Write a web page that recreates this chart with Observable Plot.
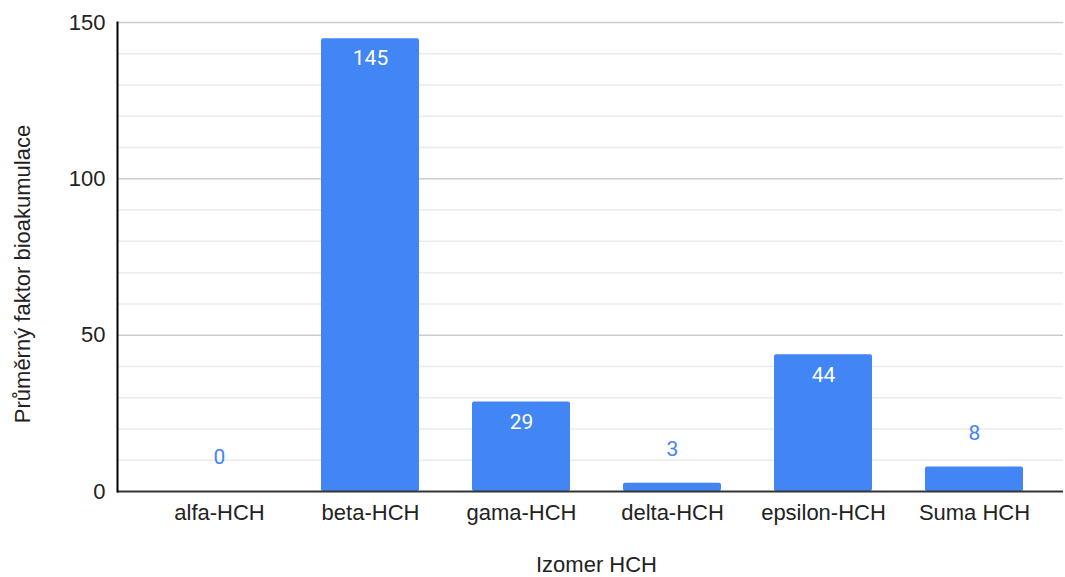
<!DOCTYPE html>
<html>
<head>
<meta charset="utf-8">
<script src="https://cdn.jsdelivr.net/npm/d3@7"></script>
<script src="https://cdn.jsdelivr.net/npm/@observablehq/plot@0.6"></script>
<style>
  html, body { margin: 0; padding: 0; background: #fff; }
  #chart svg { display: block; }
</style>
</head>
<body>
<div id="chart"></div>
<script>
const categories = ["alfa-HCH", "beta-HCH", "gama-HCH", "delta-HCH", "epsilon-HCH", "Suma HCH"];
const values = [0, 144.8, 28.6, 2.6, 43.7, 7.8];
const majorTicks = [0, 50, 100, 150];
const minorTicks = [10, 20, 30, 40, 60, 70, 80, 90, 110, 120, 130, 140];
const xTitle = "Izomer HCH";
const yTitle = "Průměrný faktor bioakumulace";

const data = categories.map((c, i) => ({cat: c, val: values[i]}));
const fmt = d3.format(".0f");
const inside = data.filter(d => d.val >= 20);
const outside = data.filter(d => d.val < 20);

const font = "'Liberation Sans', Arial, sans-serif";
const blue = "#4285F4";
const fs = 22;

const chart = Plot.plot({
  width: 1065,
  height: 577,
  marginLeft: 117,
  marginRight: 2,
  marginTop: 22,
  marginBottom: 86,
  style: {fontFamily: font, fontSize: fs + "px", color: "#222", background: "#fff"},
  x: {domain: categories, range: [117, 1076], paddingInner: 0.353, paddingOuter: 0.34, label: null},
  y: {domain: [0, 150], label: null},
  marks: [
    Plot.ruleY(minorTicks, {stroke: "#ebebeb", strokeWidth: 1.5}),
    Plot.ruleY(majorTicks.filter(t => t > 0), {stroke: "#cccccc", strokeWidth: 1.5}),
    Plot.barY(data, {x: "cat", y: "val", fill: blue, rx: 2}),
    Plot.ruleY([0], {stroke: "#333", strokeWidth: 2}),
    Plot.frame({anchor: "left", stroke: "#000", strokeWidth: 2}),
    Plot.axisY({ticks: majorTicks, tickSize: 0, tickPadding: 12, label: null, fontSize: fs, fill: "#222"}),
    Plot.axisX({tickSize: 0, tickPadding: 13, label: null, fontSize: fs, fill: "#222"}),
    Plot.text(inside, {x: "cat", y: "val", text: d => fmt(d.val), dy: 20, fill: "#fff",
      fontSize: 21, fontWeight: 400, fontFamily: "Roboto, sans-serif"}),
    Plot.text(outside, {x: "cat", y: "val", text: d => fmt(d.val), dy: -34, fill: blue,
      fontSize: 21, fontWeight: 400, fontFamily: "Roboto, sans-serif"}),
    Plot.text([xTitle], {frameAnchor: "bottom", textAnchor: "middle", dy: 80, dx: 6, fill: "#222", fontSize: fs}),
    Plot.text([yTitle], {frameAnchor: "left", textAnchor: "middle", dx: -95, dy: 17, rotate: -90, fill: "#222", fontSize: fs})
  ]
});
document.getElementById("chart").appendChild(chart);
</script>
</body>
</html>
